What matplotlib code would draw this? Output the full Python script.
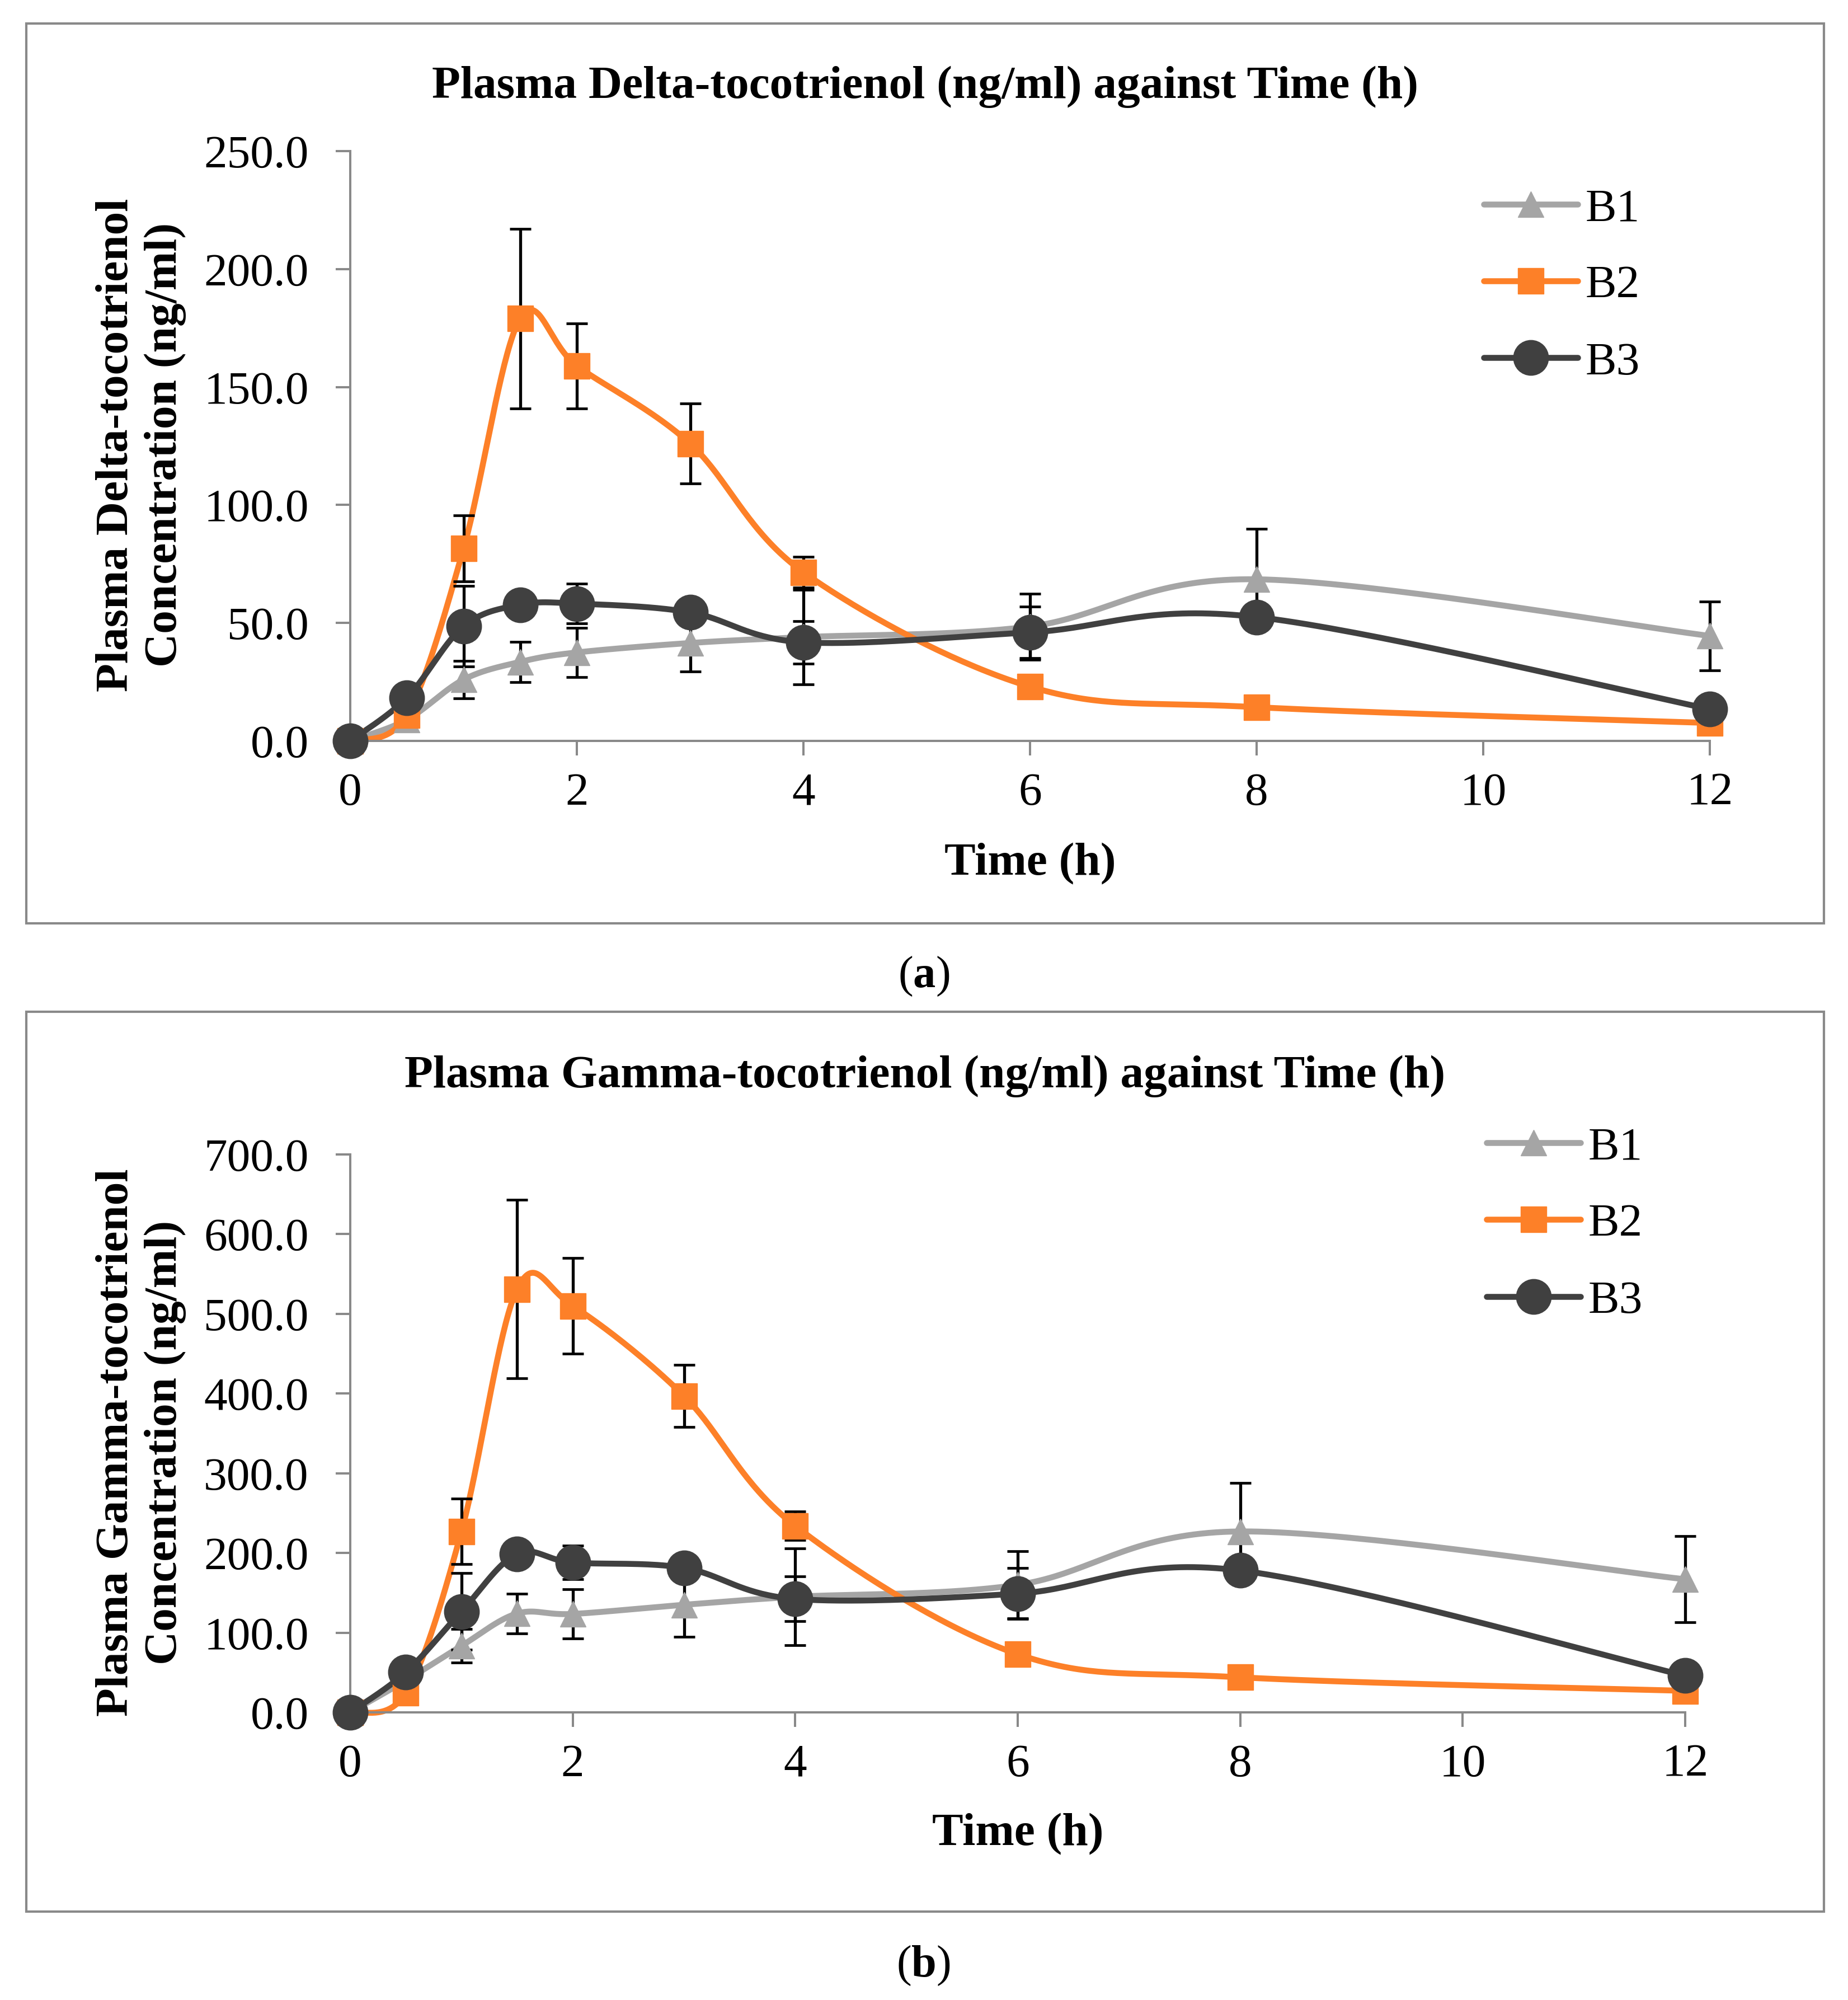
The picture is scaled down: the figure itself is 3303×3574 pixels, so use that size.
import numpy as np
import matplotlib
matplotlib.use("Agg")
import matplotlib.pyplot as plt
from matplotlib.lines import Line2D
from matplotlib.patches import Rectangle

plt.rcParams['font.family'] = ['Liberation Serif', 'DejaVu Serif']
plt.rcParams['mathtext.fontset'] = 'custom'
plt.rcParams['mathtext.rm'] = 'Liberation Serif'
plt.rcParams['mathtext.bf'] = 'Liberation Serif:bold'

# ---------------- data ----------------
time_h = [0, 0.5, 1, 1.5, 2, 3, 4, 6, 8, 12]
series_names = ["B1", "B2", "B3"]

delta_B1 = [0, 9, 26, 33.5, 37.5, 41.5, 44, 48.5, 68.5, 44.5]
delta_B1_err = [0, 0, 8, 8.5, 10.5, 12, 20, 14, 21.5, 14.5]
delta_B2 = [0, 11, 81.5, 179, 159, 126, 71.5, 23, 14.3, 7.6]
delta_B2_err = [0, 0, 14, 38, 18, 17, 6.5, 0, 0, 0]
delta_B3 = [0, 18.3, 48.6, 57.7, 58.2, 54.5, 41.8, 46, 52.5, 13.5]
delta_B3_err = [0, 0, 17, 0, 8.5, 0, 9, 11, 0, 0]

gamma_B1 = [0, 40, 83.5, 124, 123.5, 135, 145, 160, 227, 167]
gamma_B1_err = [0, 0, 21, 25, 31, 40, 61, 42, 61, 54]
gamma_B2 = [0, 24.5, 227, 531, 510, 397, 234, 73, 44, 27]
gamma_B2_err = [0, 0, 41, 112, 60, 39, 18, 0, 0, 0]
gamma_B3 = [0, 50.4, 126.7, 198.8, 188, 181.3, 142.3, 149, 178, 46]
gamma_B3_err = [0, 0, 48, 0, 21, 0, 28, 32, 0, 0]

x_ticks = [0, 2, 4, 6, 8, 10, 12]
delta_y_ticks = [0, 50, 100, 150, 200, 250]
gamma_y_ticks = [0, 100, 200, 300, 400, 500, 600, 700]

title_a = "Plasma Delta-tocotrienol (ng/ml) against Time (h)"
title_b = "Plasma Gamma-tocotrienol (ng/ml) against Time (h)"
ylabel_a = "Plasma Delta-tocotrienol\nConcentration (ng/ml)"
ylabel_b = "Plasma Gamma-tocotrienol\nConcentration (ng/ml)"
xlabel = "Time (h)"

# ---------------- style ----------------
colors = {"B1": "#A5A5A5", "B2": "#FD8028", "B3": "#404040"}
markers = {"B1": "^", "B2": "s", "B3": "o"}
msizes = {"B1": 33, "B2": 33, "B3": 45}
lwidths = {"B1": 7.6, "B2": 7.6, "B3": 7.6}
axis_grey = "#898989"

W, H = 3303, 3574
fig = plt.figure(figsize=(W / 100, H / 100), dpi=100)


def smooth_curve(ax, x, y, n=40):
    """Excel-like smoothed line (Bezier through points) computed in pixel space."""
    x0, x1 = ax.get_xlim()
    y0, y1 = ax.get_ylim()
    bb = ax.get_position()
    wpx, hpx = bb.width * W, bb.height * H
    px = (np.asarray(x, float) - x0) / (x1 - x0) * wpx
    py = (np.asarray(y, float) - y0) / (y1 - y0) * hpx
    pts = np.column_stack([px, py])
    ext = np.vstack([pts[0], pts, pts[-1]])
    out = []
    t = np.linspace(0, 1, n)[:, None]
    for i in range(len(pts) - 1):
        p0, p1, p2, p3 = ext[i], ext[i + 1], ext[i + 2], ext[i + 3]
        c1 = p1 + (p2 - p0) / 6.0
        c2 = p2 - (p3 - p1) / 6.0
        seg = ((1 - t) ** 3) * p1 + 3 * ((1 - t) ** 2) * t * c1 + 3 * (1 - t) * t ** 2 * c2 + t ** 3 * p2
        out.append(seg if i == 0 else seg[1:])
    out = np.vstack(out)
    return (out[:, 0] / wpx * (x1 - x0) + x0, out[:, 1] / hpx * (y1 - y0) + y0)


def panel(rect, frame_y, ymax, yticks, data, title, title_y, ylabel, ylab_xy, xlab_y,
          legend_xy, caption, caption_y):
    # frame
    fig.add_artist(Rectangle(frame_y[0], frame_y[1], frame_y[2], transform=fig.transFigure,
                             fill=False, ec=axis_grey, lw=3.0))
    ax = fig.add_axes(rect)
    ax.set_xlim(0, 12)
    ax.set_ylim(0, ymax)
    for s in ("top", "right"):
        ax.spines[s].set_visible(False)
    for s in ("left", "bottom"):
        ax.spines[s].set_color(axis_grey)
        ax.spines[s].set_linewidth(2.9)
    ax.set_xticks(x_ticks)
    ax.set_xticklabels([str(v) for v in x_ticks])
    ax.set_yticks(yticks)
    ax.set_yticklabels([f"{v:.1f}" for v in yticks])
    ax.tick_params(axis='y', length=18.5, width=2.9, color=axis_grey, pad=35, labelsize=60)
    ax.tick_params(axis='x', length=18.5, width=2.9, color=axis_grey, pad=22, labelsize=60)

    handles = []
    for name in series_names:
        yv, ev = data[name]
        xs, ys = smooth_curve(ax, time_h, yv)
        ax.plot(xs, ys, color=colors[name], lw=lwidths[name], solid_capstyle='round',
                zorder=2, clip_on=False)
        handles.append(Line2D([], [], color=colors[name], lw=lwidths[name], marker=markers[name],
                              ms=msizes[name], mec=colors[name], mfc=colors[name],
                              solid_capstyle='round'))
    for name in series_names:
        yv, ev = data[name]
        xa, ya, ea = np.asarray(time_h), np.asarray(yv, float), np.asarray(ev, float)
        m = ea > 0
        ax.errorbar(xa[m], ya[m], yerr=ea[m], fmt='none', ecolor='black', elinewidth=3.8,
                    capsize=13.5, capthick=3.4, zorder=3, clip_on=False)
    for name in series_names:
        yv, ev = data[name]
        ax.plot(time_h, yv, ls='none', marker=markers[name], ms=msizes[name],
                mfc=colors[name], mec=colors[name], zorder=4, clip_on=False)

    fig.text(0.5005, title_y, title, ha='center', va='center', fontsize=60, fontweight='bold')
    ax.set_ylabel(ylabel, fontsize=60, fontweight='bold', va='center', ha='center', linespacing=1.19)
    ax.yaxis.set_label_coords(*ylab_xy)
    ax.set_xlabel(xlabel, fontsize=60, fontweight='bold', va='center')
    ax.xaxis.set_label_coords(0.5, xlab_y)

    fig.legend(handles, series_names, loc='upper left', bbox_to_anchor=legend_xy,
               bbox_transform=fig.transFigure, frameon=False, borderpad=0, borderaxespad=0,
               handlelength=2.02, handletextpad=0.16, labelspacing=0.73, fontsize=60)

    fig.text(0.4998, caption_y, caption, ha='center', va='center', fontsize=58)
    return ax


panel([626 / W, 1 - 1324 / H, (3056 - 626) / W, (1324 - 270) / H],
      ((47 / W, 1 - 1650 / H), 3213 / W, 1608 / H),
      250, delta_y_ticks,
      {"B1": (delta_B1, delta_B1_err), "B2": (delta_B2, delta_B2_err), "B3": (delta_B3, delta_B3_err)},
      title_a, 1 - 155 / H, ylabel_a, (-0.1539, 0.502), -0.2087,
      (2652 / W, 1 - 336 / H), r'($\mathbf{a}$)', 1 - 1745 / H)

panel([626 / W, 1 - 3060 / H, (3012 - 626) / W, (3060 - 2063) / H],
      ((47 / W, 1 - 3416 / H), 3213 / W, 1608 / H),
      700, gamma_y_ticks,
      {"B1": (gamma_B1, gamma_B1_err), "B2": (gamma_B2, gamma_B2_err), "B3": (gamma_B3, gamma_B3_err)},
      title_b, 1 - 1923 / H, ylabel_b, (-0.1567, 0.4835), -0.2187,
      (2657 / W, 1 - 2013 / H), r'($\mathbf{b}$)', 1 - 3513 / H)

fig.savefig("out.png", dpi=100, facecolor='white')
